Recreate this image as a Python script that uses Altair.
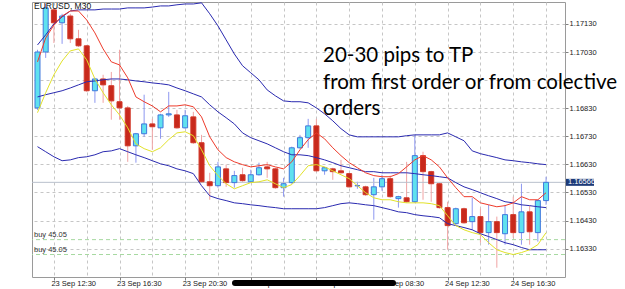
import altair as alt
import pandas as pd

# ---- data (EURUSD M30, 23 Sep 11:30 .. 24 Sep 18:30) ----
opens = [1.16831, 1.17030, 1.17180, 1.17134, 1.17158, 1.17077, 1.17052, 1.16892, 1.16934, 1.16910,
         1.16853, 1.16831, 1.16696, 1.16739, 1.16774, 1.16760, 1.16806, 1.16806, 1.16760, 1.16799,
         1.16707, 1.16568, 1.16554, 1.16614, 1.16565, 1.16593, 1.16568, 1.16593, 1.16621, 1.16614,
         1.16547, 1.16565, 1.16689, 1.16725, 1.16767, 1.16607, 1.16614, 1.16607, 1.16597, 1.16554,
         1.16550, 1.16522, 1.16550, 1.16579, 1.16508, 1.16511, 1.16497, 1.16661, 1.16604, 1.16561,
         1.16476, 1.16419, 1.16472, 1.16426, 1.16444, 1.16387, 1.16426, 1.16383, 1.16451, 1.16387,
         1.16461, 1.16387, 1.16501]
highs = [1.17038, 1.17201, 1.17187, 1.17166, 1.17166, 1.17109, 1.17055, 1.16938, 1.16949, 1.16959,
         1.17038, 1.16838, 1.16742, 1.16878, 1.16792, 1.16810, 1.16888, 1.16824, 1.16824, 1.16817,
         1.16735, 1.16600, 1.16639, 1.16629, 1.16607, 1.16618, 1.16611, 1.16636, 1.16639, 1.16618,
         1.16582, 1.16693, 1.16735, 1.16792, 1.16792, 1.16621, 1.16618, 1.16646, 1.16600, 1.16568,
         1.16554, 1.16582, 1.16593, 1.16590, 1.16518, 1.16639, 1.16735, 1.16675, 1.16607, 1.16565,
         1.16497, 1.16476, 1.16476, 1.16511, 1.16472, 1.16486, 1.16444, 1.16486, 1.16515, 1.16561,
         1.16483, 1.16504, 1.16586]
lows = [1.16824, 1.17009, 1.17062, 1.17059, 1.17062, 1.17048, 1.16888, 1.16849, 1.16849, 1.16789,
        1.16789, 1.16639, 1.16636, 1.16728, 1.16682, 1.16721, 1.16799, 1.16757, 1.16757, 1.16703,
        1.16565, 1.16504, 1.16547, 1.16550, 1.16547, 1.16568, 1.16565, 1.16590, 1.16582, 1.16543,
        1.16515, 1.16561, 1.16686, 1.16689, 1.16604, 1.16593, 1.16575, 1.16597, 1.16547, 1.16543,
        1.16518, 1.16433, 1.16536, 1.16511, 1.16476, 1.16493, 1.16493, 1.16504, 1.16497, 1.16472,
        1.16326, 1.16412, 1.16419, 1.16397, 1.16351, 1.16344, 1.16262, 1.16344, 1.16369, 1.16344,
        1.16344, 1.16355, 1.16486]
closes = [1.17030, 1.17187, 1.17134, 1.17158, 1.17077, 1.17052, 1.16892, 1.16934, 1.16913, 1.16856,
          1.16831, 1.16696, 1.16739, 1.16774, 1.16764, 1.16806, 1.16810, 1.16760, 1.16803, 1.16707,
          1.16568, 1.16554, 1.16621, 1.16565, 1.16590, 1.16572, 1.16593, 1.16618, 1.16614, 1.16547,
          1.16561, 1.16689, 1.16725, 1.16767, 1.16607, 1.16618, 1.16604, 1.16600, 1.16550, 1.16554,
          1.16522, 1.16550, 1.16579, 1.16515, 1.16515, 1.16497, 1.16661, 1.16604, 1.16561, 1.16476,
          1.16412, 1.16472, 1.16422, 1.16444, 1.16387, 1.16426, 1.16387, 1.16451, 1.16387, 1.16461,
          1.16390, 1.16501, 1.16566]

bb_upper = [1.17055, 1.17091, 1.17130, 1.17155, 1.17176, 1.17180, 1.17180, 1.17180, 1.17183, 1.17183,
            1.17183, 1.17187, 1.17187, 1.17187, 1.17190, 1.17194, 1.17194, 1.17198, 1.17201, 1.17201,
            1.17205, 1.17166, 1.17123, 1.17073, 1.17023, 1.16981, 1.16956, 1.16931, 1.16895, 1.16874,
            1.16856, 1.16853, 1.16853, 1.16849, 1.16831, 1.16810, 1.16785, 1.16757, 1.16735, 1.16728,
            1.16728, 1.16728, 1.16728, 1.16728, 1.16728, 1.16732, 1.16735, 1.16735, 1.16735, 1.16735,
            1.16742, 1.16728, 1.16714, 1.16678, 1.16668, 1.16661, 1.16654, 1.16646, 1.16643, 1.16639,
            1.16636, 1.16632, 1.16629]
bb_middle = [1.16870, 1.16878, 1.16885, 1.16892, 1.16902, 1.16913, 1.16924, 1.16927, 1.16931, 1.16934,
             1.16934, 1.16931, 1.16927, 1.16924, 1.16920, 1.16917, 1.16913, 1.16902, 1.16892, 1.16881,
             1.16870, 1.16842, 1.16817, 1.16796, 1.16774, 1.16742, 1.16725, 1.16714, 1.16703, 1.16689,
             1.16675, 1.16664, 1.16664, 1.16661, 1.16654, 1.16646, 1.16636, 1.16625, 1.16618, 1.16611,
             1.16604, 1.16604, 1.16600, 1.16600, 1.16600, 1.16600, 1.16597, 1.16593, 1.16590, 1.16586,
             1.16582, 1.16565, 1.16550, 1.16540, 1.16529, 1.16518, 1.16508, 1.16497, 1.16493, 1.16486,
             1.16483, 1.16479, 1.16476]
bb_lower = [1.16693, 1.16675, 1.16657, 1.16643, 1.16646, 1.16654, 1.16657, 1.16664, 1.16675, 1.16678,
            1.16686, 1.16675, 1.16664, 1.16654, 1.16643, 1.16632, 1.16625, 1.16614, 1.16607, 1.16597,
            1.16554, 1.16518, 1.16508, 1.16501, 1.16493, 1.16490, 1.16486, 1.16483, 1.16479, 1.16476,
            1.16472, 1.16472, 1.16472, 1.16472, 1.16472, 1.16476, 1.16483, 1.16490, 1.16493, 1.16490,
            1.16486, 1.16483, 1.16476, 1.16469, 1.16461, 1.16458, 1.16451, 1.16447, 1.16444, 1.16440,
            1.16419, 1.16412, 1.16405, 1.16397, 1.16383, 1.16373, 1.16362, 1.16351, 1.16344, 1.16334,
            1.16326, 1.16326, 1.16326]
ma_red = [1.16995, 1.17080, 1.17126, 1.17158, 1.17176, 1.17176, 1.17144, 1.17098, 1.17041, 1.16995,
          1.16984, 1.16938, 1.16870, 1.16853, 1.16838, 1.16817, 1.16838, 1.16838, 1.16842, 1.16835,
          1.16799, 1.16728, 1.16682, 1.16654, 1.16639, 1.16629, 1.16621, 1.16625, 1.16629, 1.16621,
          1.16614, 1.16639, 1.16682, 1.16718, 1.16742, 1.16721, 1.16689, 1.16661, 1.16636, 1.16618,
          1.16600, 1.16590, 1.16586, 1.16586, 1.16597, 1.16621, 1.16646, 1.16661, 1.16646, 1.16621,
          1.16582, 1.16547, 1.16515, 1.16515, 1.16493, 1.16486, 1.16479, 1.16483, 1.16493, 1.16515,
          1.16504, 1.16504, 1.16529]
ma_yellow = [1.16814, 1.16885, 1.16949, 1.16998, 1.17034, 1.17041, 1.17002, 1.16934, 1.16885, 1.16842,
             1.16806, 1.16760, 1.16703, 1.16686, 1.16675, 1.16689, 1.16718, 1.16742, 1.16746, 1.16732,
             1.16682, 1.16625, 1.16590, 1.16561, 1.16543, 1.16554, 1.16565, 1.16568, 1.16575, 1.16561,
             1.16547, 1.16558, 1.16590, 1.16625, 1.16629, 1.16621, 1.16607, 1.16593, 1.16579, 1.16554,
             1.16529, 1.16511, 1.16504, 1.16504, 1.16497, 1.16493, 1.16493, 1.16493, 1.16490, 1.16483,
             1.16447, 1.16412, 1.16397, 1.16387, 1.16380, 1.16351, 1.16326, 1.16316, 1.16309, 1.16316,
             1.16326, 1.16344, 1.16387]

y_ticks = [1.16330, 1.16430, 1.16530, 1.16630, 1.16730, 1.16830, 1.16930, 1.17030, 1.17130]
y_hidden_label = 1.16930  # covered by the annotation text in the reference
x_tick_index = [2, 10, 18, 26, 34, 42, 50, 58]
x_tick_labels = ["23 Sep 12:30", "23 Sep 16:30", "23 Sep 20:30", "24 Sep 00:30",
                 "24 Sep 04:30", "24 Sep 08:30", "24 Sep 12:30", "24 Sep 16:30"]
grid_index = [2, 6, 10, 14, 18, 22, 26, 30, 34, 38, 42, 46, 50, 54, 58, 62]
buy_levels = [1.16362, 1.16309]
buy_labels = ["buy 45.05", "buy 45.05"]
current_price = 1.16566
symbol_title = "EURUSD, M30"
annotation = ["20-30 pips to TP", "from first order or from colective", "orders"]

# ---- tables ----
n = len(opens)
candles = pd.DataFrame({"bar": list(range(n)), "open": opens, "high": highs,
                        "low": lows, "close": closes})
candles["dir"] = ["up" if c >= o else "down" for o, c in zip(opens, closes)]
lines = pd.DataFrame({"bar": list(range(n)), "upper": bb_upper, "middle": bb_middle,
                      "lower": bb_lower, "red": ma_red, "yellow": ma_yellow})
levels = pd.DataFrame({"price": buy_levels, "label": buy_labels})
cur = pd.DataFrame({"price": [current_price], "label": [f"{current_price:.5f}"]})
one = pd.DataFrame({"t": [symbol_title]})

xs = alt.Scale(domain=[-0.06, 63.7], nice=False, zero=False)
ys = alt.Scale(domain=[1.16229, 1.17208], nice=False, zero=False)

label_expr = " : ".join(f"datum.value == {i} ? '{t}'" for i, t in zip(x_tick_index, x_tick_labels)) + " : ''"
label_test = " || ".join(f"datum.value == {i}" for i in x_tick_index)
y_label_expr = f"abs(datum.value - {y_hidden_label}) < 0.00001 ? '' : format(datum.value, '.5f')"

x_axis = alt.Axis(values=grid_index, labelExpr=label_expr, grid=True, gridDash=[3, 3],
                  gridColor="#c6c6c6", domain=False, tickSize=3,
                  tickColor={"condition": {"test": label_test, "value": "#808080"}, "value": "transparent"},
                  labelAlign="left", labelBaseline="top", labelPadding=-1, labelOffset=-3,
                  labelFont="Liberation Sans", labelFontSize=7.5, labelColor="#1a1a1a",
                  labelOverlap=False, labelFlush=False, title=None)
y_axis = alt.Axis(orient="right", values=y_ticks, labelExpr=y_label_expr, grid=True, gridDash=[3, 3],
                  gridColor="#c6c6c6", domain=False, tickSize=3, tickColor="#808080",
                  labelPadding=1, labelFont="Liberation Sans", labelFontSize=7.5,
                  labelColor="#1a1a1a", labelBaseline="middle", labelOverlap=False, title=None)


def X(f):
    return alt.X(f, scale=xs, axis=x_axis)


def Y(f):
    return alt.Y(f, scale=ys, axis=y_axis)


cur_rule = alt.Chart(cur).mark_rule(color="#b9c0cc", strokeWidth=1).encode(y=Y("price:Q"))
buy_rule = alt.Chart(levels).mark_rule(color="#a6d9a0", strokeDash=[4, 3], strokeWidth=1).encode(y=Y("price:Q"))
buy_text = alt.Chart(levels).mark_text(align="left", baseline="bottom", dy=-1, font="Liberation Sans",
                                       fontSize=7.5, color="#333333").encode(
    x=alt.value(2), y=Y("price:Q"), text="label:N")

wicks = alt.Chart(candles).mark_rule(strokeWidth=1, clip=True).encode(
    x=X("bar:Q"), y=Y("low:Q"), y2="high:Q",
    color=alt.Color("dir:N", scale=alt.Scale(domain=["up", "down"], range=["#8d97f0", "#f0a3a3"]), legend=None))
bodies = alt.Chart(candles).mark_bar(size=5, strokeWidth=1, clip=True).encode(
    x=X("bar:Q"), y=Y("open:Q"), y2="close:Q",
    fill=alt.Fill("dir:N", scale=alt.Scale(domain=["up", "down"], range=["#5fe1ef", "#c8291c"]), legend=None),
    stroke=alt.Stroke("dir:N", scale=alt.Scale(domain=["up", "down"], range=["#3f78dc", "#d2392a"]), legend=None))

bands = alt.Chart(lines).transform_fold(["upper", "middle", "lower"], as_=["band", "value"]).mark_line(
    color="#2a2ab0", strokeWidth=1, clip=True).encode(x=X("bar:Q"), y=Y("value:Q"), detail="band:N")
red = alt.Chart(lines).mark_line(color="#ee3b2b", strokeWidth=1, clip=True).encode(x=X("bar:Q"), y=Y("red:Q"))
yellow = alt.Chart(lines).mark_line(color="#e2e22a", strokeWidth=1, clip=True).encode(x=X("bar:Q"), y=Y("yellow:Q"))

cur_box = alt.Chart(cur).mark_rect(color="#1d3a78", yOffset=-3.5, y2Offset=3.5).encode(
    x=alt.value(534), x2=alt.value(562), y=Y("price:Q"), y2="price:Q")
cur_text = alt.Chart(cur).mark_text(align="left", baseline="middle", font="Liberation Sans", fontSize=7.5,
                                    color="white").encode(x=alt.value(536), y=Y("price:Q"), text="label:N")

title = alt.Chart(one).mark_text(align="left", baseline="alphabetic", font="Liberation Sans", fontSize=8.5,
                                 color="#111111").encode(x=alt.value(2), y=alt.value(7.3), text="t:N")
note = alt.Chart(one).mark_text(text=annotation, align="left", baseline="alphabetic", font="Lato",
                                fontSize=20.5, lineHeight=26.5, color="#000000").encode(
    x=alt.value(291), y=alt.value(60))
scribble = alt.Chart(one).mark_rule(color="#000000", strokeWidth=6, strokeCap="round").encode(
    x=alt.value(203), x2=alt.value(361), y=alt.value(281))

chart = alt.layer(wicks, cur_rule, buy_rule, buy_text, bodies, bands, red, yellow,
                  cur_box, cur_text, title, note, scribble).properties(
    width=533, height=275,
    padding={"left": 32, "top": 2, "right": 60, "bottom": 12},
    autosize=alt.AutoSizeParams(type="none"),
    background="white",
).configure_view(stroke="#9a9a9a", strokeWidth=1)

chart.save("out.html", embed_options={"renderer": "svg", "actions": False})
